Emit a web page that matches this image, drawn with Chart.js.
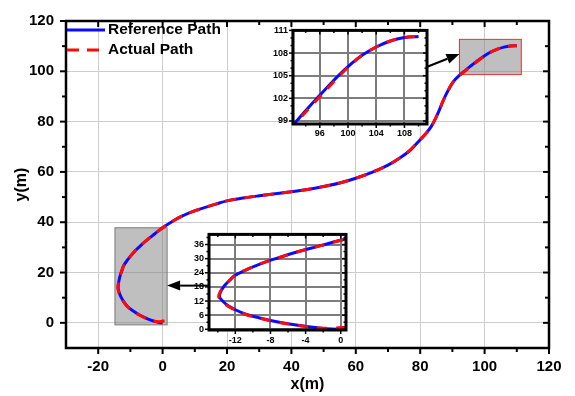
<!DOCTYPE html>
<html>
<head>
<meta charset="utf-8">
<script src="https://cdn.jsdelivr.net/npm/chart.js@4.4.0/dist/chart.umd.min.js"></script>
<style>
  html, body { margin: 0; padding: 0; background: #fff; }
  #wrap { position: relative; width: 575px; height: 396px; }
  #wrap canvas { position: absolute; }
</style>
</head>
<body>
<div id="wrap">
  <canvas id="main" width="575" height="396" style="left:0;top:0"></canvas>
  <canvas id="zoomTop" width="166" height="122" style="left:265px;top:20px"></canvas>
  <canvas id="zoomBottom" width="170" height="122" style="left:180px;top:224px"></canvas>
</div>
<script>
'use strict';

// ---- data ----
var refX = [0, -1, -2.5, -4.5, -7, -9, -10.8, -12, -12.9, -13.45, -13.72, -13.8, -13.75, -13.55, -13.2, -12.7, -12.1,
    -10.9, -9, -7, -5, -2.5, 0, 3, 6, 9.5, 13, 16.5, 20, 25, 30, 35, 40, 45, 50, 55, 60, 65, 70, 74, 77, 80,
    82, 83.5, 85, 86, 87, 88, 89, 90, 91, 92, 93, 94.5, 96, 98, 100, 102, 104, 106, 108, 110];
var refY = [0, 0.1, 0.6, 1.5, 3, 4.6, 6.4, 8.3, 10.2, 12, 13.2, 14, 15.2, 16.8, 18.7, 20.6, 22.7,
    25, 28, 30.5, 32.8, 35.3, 37.8, 40.3, 42.4, 44.3, 45.8, 47.2, 48.5, 49.6, 50.5, 51.3, 52.1, 53, 54.2, 55.6, 57.5, 59.8, 62.7, 65.8, 68.8, 72.8,
    75.6, 78.2, 81.9, 84.8, 87.9, 90.7, 93.2, 95.3, 96.9, 98.2, 99.3, 100.9, 102.4, 104.4, 106.2, 107.7, 108.8, 109.6, 110.05, 110.2];
var actX = [0.6, -0.6, -2.5, -4.6, -7.1, -9.1, -10.9, -12.1, -13, -13.55, -13.82, -13.9, -13.8, -13.6, -13.2, -12.7, -12.1,
    -10.9, -9, -7, -5, -2.5, 0, 3, 6, 9.5, 13, 16.5, 20, 25, 30, 35, 40, 45, 50, 55, 60, 65, 70, 74, 77, 80,
    82, 83.5, 85, 86, 87, 88, 89, 90, 91, 92, 93, 94.5, 96, 98, 100, 102, 104, 106, 108, 110];
var actY = [0.9, 0.5, 0.6, 1.5, 3, 4.6, 6.4, 8.3, 10.2, 12, 13.2, 14, 15.2, 16.8, 18.7, 20.6, 22.7,
    25, 28, 30.5, 32.8, 35.3, 37.8, 40.3, 42.4, 44.3, 45.8, 47.2, 48.5, 49.6, 50.5, 51.3, 52.1, 53, 54.2, 55.6, 57.5, 59.8, 62.7, 65.8, 68.8, 72.8,
    75.6, 78.2, 81.9, 84.8, 87.9, 90.7, 93.2, 95.3, 96.9, 98.1, 99.15, 100.7, 102.2, 104.2, 106.1, 107.7, 108.8, 109.6, 110.05, 110.2];

// main axes
var xTicks = [-20, 0, 20, 40, 60, 80, 100, 120];
var xMinor = [-10, 10, 30, 50, 70, 90, 110];
var yTicks = [0, 20, 40, 60, 80, 100, 120];
var yMinor = [10, 30, 50, 70, 90, 110];

// zoomed regions (data units)
var boxTopX = [92.2, 111.4];
var boxTopY = [98.7, 112.7];
var boxBottomX = [-14.8, 1.4];
var boxBottomY = [-0.8, 37.8];

// inset axes
var topXTicks = [96, 100, 104, 108];
var topXMinor = [94, 98, 102, 106, 110];
var topYTicks = [99, 102, 105, 108, 111];
var topYMinor = [100, 101, 103, 104, 106, 107, 109, 110];
var botXTicks = [-12, -8, -4, 0];
var botXMinor = [-14, -10, -6, -2];
var botYTicks = [0, 6, 12, 18, 24, 30, 36];
var botYMinor = [3, 9, 15, 21, 27, 33, 39];

var FONT = "'Liberation Sans', Arial, sans-serif";
var BLUE = '#0a0aff';
var RED = '#ff0a0a';

function pts(xs, ys) {
    return xs.map(function (v, i) { return {x: v, y: ys[i]}; });
}

function pathSets(width, dash) {
    return [{
        label: 'Actual Path',
        data: pts(actX, actY),
        borderColor: RED, borderWidth: width, borderDash: dash,
        showLine: true, pointRadius: 0, tension: 0.4, order: 0
    }, {
        label: 'Reference Path',
        data: pts(refX, refY),
        borderColor: BLUE, borderWidth: width,
        showLine: true, pointRadius: 0, tension: 0.4, order: 1
    }];
}

function line(ctx, x1, y1, x2, y2) {
    ctx.beginPath();
    ctx.moveTo(x1, y1);
    ctx.lineTo(x2, y2);
    ctx.stroke();
}

// frame + ticks on 4 sides: left/bottom outward, top/right inward
function frameTicks(t) {
    return {
        id: 'frameTicks',
        afterDatasetsDraw: function (chart) {
            var ctx = chart.ctx, a = chart.chartArea, sx = chart.scales.x, sy = chart.scales.y;
            ctx.save();
            ctx.strokeStyle = '#000';
            ctx.lineWidth = t.tickWidth;
            function xt(list, len) {
                list.forEach(function (v) {
                    var p = sx.getPixelForValue(v);
                    line(ctx, p, a.bottom, p, a.bottom + len);
                    line(ctx, p, a.top, p, a.top + len);
                });
            }
            function yt(list, len) {
                list.forEach(function (v) {
                    var p = sy.getPixelForValue(v);
                    line(ctx, a.left, p, a.left - len, p);
                    line(ctx, a.right, p, a.right - len, p);
                });
            }
            xt(t.xMajor, t.major); xt(t.xMinor, t.minor);
            yt(t.yMajor, t.major); yt(t.yMinor, t.minor);
            ctx.lineWidth = t.frame;
            ctx.strokeRect(a.left, a.top, a.right - a.left, a.bottom - a.top);
            ctx.restore();
        }
    };
}

function arrow(ctx, x1, y1, x2, y2) {
    var ang = Math.atan2(y2 - y1, x2 - x1), hl = 13, hw = 5;
    var bx = x2 - hl * Math.cos(ang), by = y2 - hl * Math.sin(ang);
    ctx.lineWidth = 2;
    line(ctx, x1, y1, bx, by);
    ctx.beginPath();
    ctx.moveTo(x2, y2);
    ctx.lineTo(bx + hw * Math.sin(ang), by - hw * Math.cos(ang));
    ctx.lineTo(bx - hw * Math.sin(ang), by + hw * Math.cos(ang));
    ctx.closePath();
    ctx.fill();
}

// ---- main chart ----
var boxes = {
    id: 'boxes',
    beforeDatasetsDraw: function (chart) {
        var ctx = chart.ctx, sx = chart.scales.x, sy = chart.scales.y;
        function box(bx, by, edge) {
            var x0 = sx.getPixelForValue(bx[0]), x1 = sx.getPixelForValue(bx[1]);
            var y0 = sy.getPixelForValue(by[1]), y1 = sy.getPixelForValue(by[0]);
            ctx.fillStyle = 'rgba(128,128,128,0.5)';
            ctx.fillRect(x0, y0, x1 - x0, y1 - y0);
            ctx.strokeStyle = edge;
            ctx.lineWidth = 1;
            ctx.strokeRect(x0, y0, x1 - x0, y1 - y0);
        }
        ctx.save();
        box(boxTopX, boxTopY, '#d83a3a');
        box(boxBottomX, boxBottomY, '#7a7a7a');
        ctx.restore();
    },
    afterDraw: function (chart) {
        var ctx = chart.ctx, sx = chart.scales.x, sy = chart.scales.y;
        ctx.save();
        ctx.fillStyle = '#000';
        ctx.strokeStyle = '#000';
        // arrows from insets to boxes
        arrow(ctx, sx.getPixelForValue(82.0), sy.getPixelForValue(101.7),
            sx.getPixelForValue(boxTopX[0]), sy.getPixelForValue(106.9));
        arrow(ctx, sx.getPixelForValue(14.4), sy.getPixelForValue(14.8),
            sx.getPixelForValue(boxBottomX[1]), sy.getPixelForValue(14.8));
        // legend
        ctx.lineWidth = 3;
        ctx.strokeStyle = BLUE;
        line(ctx, 67, 30, 105, 30);
        ctx.strokeStyle = RED;
        ctx.setLineDash([12, 8]);
        line(ctx, 67, 50, 105, 50);
        ctx.setLineDash([]);
        ctx.font = 'bold 15.5px ' + FONT;
        ctx.textBaseline = 'middle';
        ctx.fillText('Reference Path', 108, 30);
        ctx.fillText('Actual Path', 108, 50);
        ctx.restore();
    }
};

new Chart(document.getElementById('main'), {
    type: 'scatter',
    data: {datasets: pathSets(3, [11, 8])},
    options: {
        responsive: false, animation: false, devicePixelRatio: 1,
        layout: {padding: {left: 0, top: 14, right: 26, bottom: 0}},
        plugins: {legend: {display: false}, tooltip: {enabled: false}},
        scales: {
            x: {
                type: 'linear', min: -30, max: 120,
                afterBuildTicks: function (s) { s.ticks = xTicks.map(function (v) { return {value: v}; }); },
                afterFit: function (s) { s.height = 48; },
                grid: {color: '#cdcdcd', lineWidth: 1, drawTicks: false},
                border: {display: false},
                ticks: {padding: 10, color: '#000', autoSkip: false, maxRotation: 0,
                    font: {family: FONT, size: 15, weight: 'bold'}},
                title: {display: true, text: 'x(m)', color: '#000', padding: {top: 0, bottom: 2},
                    font: {family: FONT, size: 16, weight: 'bold'}}
            },
            y: {
                type: 'linear', min: -10, max: 120,
                afterBuildTicks: function (s) { s.ticks = yTicks.map(function (v) { return {value: v}; }); },
                afterFit: function (s) { s.width = 66; },
                grid: {color: '#cdcdcd', lineWidth: 1, drawTicks: false},
                border: {display: false},
                ticks: {padding: 12, color: '#000', autoSkip: false,
                    font: {family: FONT, size: 15, weight: 'bold'}},
                title: {display: true, text: 'y(m)', color: '#000', padding: {top: 12, bottom: 0},
                    font: {family: FONT, size: 16, weight: 'bold'}}
            }
        }
    },
    plugins: [boxes, frameTicks({xMajor: xTicks, xMinor: xMinor, yMajor: yTicks, yMinor: yMinor,
        major: 6, minor: 4, tickWidth: 2, frame: 2.5})]
});

// ---- insets ----
var whiteArea = {
    id: 'whiteArea',
    beforeDraw: function (chart) {
        var a = chart.chartArea;
        chart.ctx.save();
        chart.ctx.fillStyle = '#fff';
        chart.ctx.fillRect(a.left, a.top, a.right - a.left, a.bottom - a.top);
        chart.ctx.restore();
    }
};

function inset(id, c) {
    var tickFont = {family: FONT, size: 9, weight: 'bold'};
    new Chart(document.getElementById(id), {
        type: 'scatter',
        data: {datasets: pathSets(3, [10, 9])},
        options: {
            responsive: false, animation: false, devicePixelRatio: 1,
            layout: {padding: {left: 0, top: 6, right: 4, bottom: 0}},
            plugins: {legend: {display: false}, tooltip: {enabled: false}},
            scales: {
                x: {
                    type: 'linear', min: c.xr[0], max: c.xr[1],
                    afterBuildTicks: function (s) { s.ticks = c.xt.map(function (v) { return {value: v}; }); },
                    afterFit: function (s) { s.height = c.xh; },
                    grid: {color: '#7d7d7d', lineWidth: 2, drawTicks: false},
                    border: {display: false},
                    ticks: {padding: c.xpad, color: '#000', autoSkip: false, maxRotation: 0, font: tickFont}
                },
                y: {
                    type: 'linear', min: c.yr[0], max: c.yr[1],
                    afterBuildTicks: function (s) { s.ticks = c.yt.map(function (v) { return {value: v}; }); },
                    afterFit: function (s) { s.width = c.yw; },
                    grid: {color: '#7d7d7d', lineWidth: 2, drawTicks: false},
                    border: {display: false},
                    ticks: {padding: 5, color: '#000', autoSkip: false, font: tickFont}
                }
            }
        },
        plugins: [whiteArea, frameTicks({xMajor: c.xt, xMinor: c.xm, yMajor: c.yt, yMinor: c.ym,
            major: 4, minor: 2.5, tickWidth: 1.5, frame: 3})]
    });
}

inset('zoomTop', {xr: [92.2, 111.2], yr: [98.6, 111], xt: topXTicks, xm: topXMinor,
    yt: topYTicks, ym: topYMinor, xh: 18, yw: 28, xpad: 4});
inset('zoomBottom', {xr: [-15, 0.6], yr: [-0.3, 40.3], xt: botXTicks, xm: botXMinor,
    yt: botYTicks, ym: botYMinor, xh: 16, yw: 29, xpad: 5});
</script>
</body>
</html>
